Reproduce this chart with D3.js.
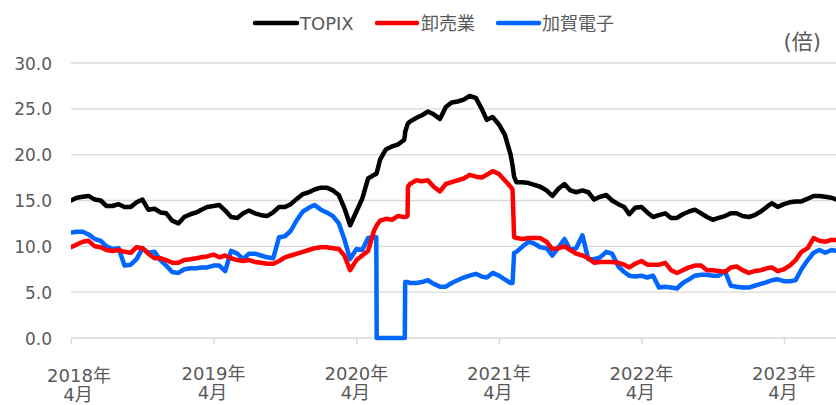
<!DOCTYPE html>
<html>
<head>
<meta charset="utf-8">
<script src="https://cdn.jsdelivr.net/npm/d3@7"></script>
<style>
  html, body { margin: 0; padding: 0; background: #ffffff; }
  svg { display: block; }
  text { font-family: "DejaVu Sans", "Noto Sans CJK JP", sans-serif; }
</style>
</head>
<body>
<svg id="chart" width="836" height="405"></svg>
<script>
// ---- data ----
const dates = [
"2018-04-01","2018-04-16","2018-05-01","2018-05-16","2018-06-01","2018-06-16","2018-07-01","2018-07-16",
"2018-08-01","2018-08-16","2018-09-01","2018-09-16","2018-10-01","2018-10-16","2018-11-01","2018-11-16",
"2018-12-01","2018-12-16","2019-01-01","2019-01-16","2019-02-01","2019-02-16","2019-03-01","2019-03-16",
"2019-04-01","2019-04-16","2019-05-01","2019-05-16","2019-06-01","2019-06-16","2019-07-01","2019-07-16",
"2019-08-01","2019-08-16","2019-09-01","2019-09-16","2019-10-01","2019-10-16","2019-11-01","2019-11-16",
"2019-12-01","2019-12-16","2020-01-01","2020-01-16","2020-02-01","2020-02-16","2020-03-01","2020-03-16",
"2020-04-01","2020-04-16","2020-05-01","2020-05-16","2020-05-22","2020-05-23","2020-06-01","2020-06-16",
"2020-07-01","2020-07-16","2020-08-01","2020-08-03","2020-08-04","2020-08-10","2020-08-11","2020-08-16",
"2020-09-01","2020-09-16","2020-10-01","2020-10-16","2020-11-01","2020-11-16","2020-12-01","2020-12-16",
"2021-01-01","2021-01-16","2021-02-01","2021-02-16","2021-03-01","2021-03-16","2021-04-01","2021-04-16",
"2021-05-01","2021-05-06","2021-05-10","2021-05-16","2021-06-01","2021-06-16","2021-07-01","2021-07-16",
"2021-08-01","2021-08-16","2021-09-01","2021-09-16","2021-10-01","2021-10-16","2021-11-01","2021-11-16",
"2021-12-01","2021-12-16","2022-01-01","2022-01-16","2022-02-01","2022-02-16","2022-03-01","2022-03-16",
"2022-04-01","2022-04-16","2022-05-01","2022-05-16","2022-06-01","2022-06-16","2022-07-01","2022-07-16",
"2022-08-01","2022-08-16","2022-09-01","2022-09-16","2022-10-01","2022-10-16","2022-11-01","2022-11-16",
"2022-12-01","2022-12-16","2023-01-01","2023-01-16","2023-02-01","2023-02-16","2023-03-01","2023-03-16",
"2023-04-01","2023-04-16","2023-05-01","2023-05-16","2023-06-01","2023-06-16","2023-07-01","2023-07-16",
"2023-08-01","2023-08-14"
];

const topix = [
15.0,15.3,15.4,15.5,15.1,15.0,14.4,14.4, 14.6,14.3,14.3,14.8,15.1,14.0,14.1,13.7,
13.6,12.8,12.5,13.2,13.5,13.7,14.0,14.3, 14.4,14.5,13.9,13.2,13.1,13.6,13.9,13.6,
13.4,13.3,13.7,14.3,14.3,14.6,15.2,15.7, 15.9,16.2,16.4,16.4,16.1,15.6,14.2,12.3,
13.8,15.2,17.4,17.8,17.9,18.0,19.5,20.6, 20.9,21.1,21.6,22.0,22.5,23.3,23.4,23.6,
24.0,24.3,24.7,24.4,23.9,25.2,25.7,25.8, 26.0,26.4,26.2,25.0,23.8,24.1,23.3,22.2,
20.0,18.8,17.6,17.0,17.0,16.9,16.7,16.5, 16.1,15.5,16.3,16.8,16.1,15.9,16.1,15.9,
15.1,15.4,15.6,15.0,14.6,14.3,13.5,14.2, 14.3,13.7,13.2,13.4,13.6,13.1,13.1,13.5,
13.8,14.0,13.6,13.2,12.9,13.1,13.3,13.6, 13.6,13.3,13.2,13.4,13.8,14.3,14.7,14.3,
14.6,14.8,14.9,14.9,15.2,15.5,15.5,15.4, 15.3,15.1
];

const wholesale = [
9.9,10.2,10.5,10.6,10.0,9.9,9.6,9.5, 9.6,9.4,9.3,9.9,9.8,9.2,8.7,8.7,
8.5,8.2,8.2,8.5,8.6,8.7,8.8,8.9, 9.1,8.8,9.0,8.7,8.5,8.4,8.5,8.3,
8.2,8.1,8.1,8.4,8.8,9.0,9.2,9.4, 9.6,9.8,9.9,9.9,9.8,9.7,9.0,7.4,
8.5,9.0,9.5,11.7,12.2,12.3,12.8,13.0, 12.9,13.3,13.2,13.2,13.2,13.3,16.5,16.8,
17.2,17.1,17.2,16.5,16.0,16.8,17.0,17.2, 17.4,17.8,17.6,17.5,17.8,18.2,17.9,17.2,
16.5,16.2,11.0,10.9,10.8,10.9,10.9,10.9, 10.5,9.7,9.8,10.0,9.6,9.2,9.0,8.7,
8.2,8.3,8.3,8.3,8.2,8.0,7.7,8.1, 8.4,8.0,8.0,8.0,8.2,7.4,7.1,7.4,
7.7,7.9,7.9,7.4,7.4,7.3,7.2,7.7, 7.8,7.4,7.1,7.3,7.4,7.6,7.7,7.3,
7.5,7.9,8.5,9.4,9.8,10.9,10.6,10.5, 10.7,10.7
];

const kaga = [
11.5,11.6,11.6,11.3,10.8,10.6,10.0,9.7, 9.8,7.9,8.0,8.6,9.8,9.3,9.4,8.5,
7.9,7.2,7.1,7.5,7.6,7.6,7.7,7.7, 7.9,7.9,7.3,9.5,9.2,8.6,9.2,9.2,
9.0,8.8,8.7,11.0,11.1,11.7,12.9,13.8, 14.2,14.5,14.0,13.7,13.3,12.5,10.8,8.6,
9.7,9.6,10.9,11.0,11.0,0,0,0, 0,0,0,0,6.1,6.1,6.1,6.0,
6.0,6.1,6.3,5.9,5.6,5.6,6.0,6.3, 6.6,6.8,7.0,6.7,6.6,7.1,6.8,6.4,
6.0,6.0,9.3,9.4,10.0,10.5,10.3,9.9, 9.8,9.0,9.9,10.8,9.6,9.8,11.2,8.6,
8.6,8.8,9.4,9.2,7.8,7.2,6.8,6.7, 6.8,6.6,6.8,5.5,5.6,5.5,5.4,6.0,
6.4,6.8,6.9,6.9,6.8,6.8,7.3,5.7, 5.6,5.5,5.5,5.7,5.9,6.1,6.3,6.4,
6.2,6.2,6.3,7.5,8.5,9.3,9.6,9.3, 9.6,9.5
];

const seriesNames = ["TOPIX", "卸売業", "加賀電子"];
const seriesColors = ["#000000", "#ff0000", "#0066ff"];
const yTicks = [0, 5, 10, 15, 20, 25, 30];
const xTickDates = ["2018-04-01","2019-04-01","2020-04-01","2021-04-01","2022-04-01","2023-04-01"];
const xTickLabels = [["2018年","4月"],["2019年","4月"],["2020年","4月"],["2021年","4月"],["2022年","4月"],["2023年","4月"]];
const unitLabel = "(倍)";

// ---- chart ----
const parse = d3.timeParse("%Y-%m-%d");
const plotLeft = 71, plotRight = 836.6, plotTop = 63, plotBottom = 338;

const svg = d3.select("#chart");

const x = d3.scaleTime()
  .domain([parse("2018-04-01"), parse("2023-08-14")])
  .range([plotLeft, plotRight]);
const y = d3.scaleLinear().domain([0, 30]).range([plotBottom, plotTop]);

// gridlines
svg.append("g").selectAll("line")
  .data(yTicks)
  .join("line")
  .attr("x1", plotLeft).attr("x2", 836)
  .attr("y1", d => y(d)).attr("y2", d => y(d))
  .attr("stroke", "#d9d9d9").attr("stroke-width", 1.4);

// y labels
const yAxis = d3.axisLeft(y).tickValues(yTicks).tickFormat(d3.format(".1f")).tickSize(0).tickPadding(0);
const gy = svg.append("g").attr("transform", "translate(52,0)").call(yAxis);
gy.select(".domain").remove();
gy.selectAll("text")
  .attr("fill", "#595959")
  .style("font-size", "17px")
  .attr("dy", "0.36em");

// x axis
const xAxis = d3.axisBottom(x)
  .tickValues(xTickDates.map(parse))
  .tickSize(6)
  .tickFormat(() => "");
const gx = svg.append("g").attr("transform", `translate(0,${plotBottom})`).call(xAxis);
gx.select(".domain").remove();
gx.selectAll(".tick line").attr("stroke", "#d9d9d9").attr("stroke-width", 1.4);
gx.selectAll(".tick text").remove();

// x labels (two lines)
const xl = svg.append("g").attr("fill", "#595959").style("font-size", "18px");
xTickDates.forEach((ds, i) => {
  const first = i === 0;
  const cx = first ? x(parse(ds)) + 8 : x(parse(ds));
  const base = first ? 382 : 380;
  const t = xl.append("text").attr("text-anchor", "middle");
  t.append("tspan").attr("x", cx).attr("y", base).text(xTickLabels[i][0]);
  t.append("tspan").attr("x", cx - 1).attr("y", base + 19).text(xTickLabels[i][1]);
});

// clip
svg.append("clipPath").attr("id", "clip")
  .append("rect").attr("x", plotLeft).attr("y", 0).attr("width", 836 - plotLeft).attr("height", 360);

const parsedDates = dates.map(parse);
const allSeries = [topix, wholesale, kaga];
const line = d3.line()
  .x((d, i) => x(parsedDates[i]))
  .y(d => y(d));

const plot = svg.append("g").attr("clip-path", "url(#clip)");
[2, 1, 0].forEach(k => {
  plot.append("path")
    .datum(allSeries[k])
    .attr("d", line)
    .attr("fill", "none")
    .attr("stroke", seriesColors[k])
    .attr("stroke-width", 4.5)
    .attr("stroke-linejoin", "round")
    .attr("stroke-linecap", "round");
});

// legend
const legendItems = [
  { x1: 255, x2: 297, tx: 300 },
  { x1: 377, x2: 417, tx: 421 },
  { x1: 498, x2: 539, tx: 542 }
];
const lg = svg.append("g");
legendItems.forEach((it, i) => {
  lg.append("line")
    .attr("x1", it.x1).attr("x2", it.x2)
    .attr("y1", 23).attr("y2", 23)
    .attr("stroke", seriesColors[i])
    .attr("stroke-width", 4.5)
    .attr("stroke-linecap", "round");
  lg.append("text")
    .attr("x", it.tx).attr("y", 30)
    .attr("fill", "#595959")
    .style("font-size", "18px")
    .text(seriesNames[i]);
});

// unit label
svg.append("text")
  .attr("x", 821).attr("y", 49)
  .attr("text-anchor", "end")
  .attr("fill", "#595959")
  .style("font-size", "21px")
  .text(unitLabel);
</script>
</body>
</html>
